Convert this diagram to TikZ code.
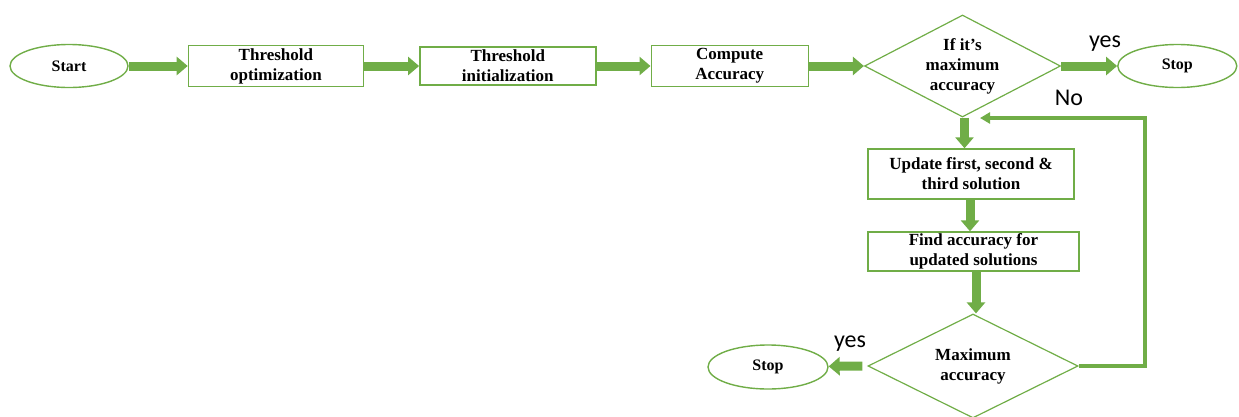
\documentclass[tikz,border=0pt]{standalone}
\usepackage{fontspec}
\setmainfont{Liberation Serif}
\newfontfamily\calibri{Carlito}
\usetikzlibrary{shapes.geometric, arrows.meta, positioning}
\definecolor{flowgreen}{RGB}{112,173,71}
\begin{document}
\begin{tikzpicture}[x=1pt, y=-1pt, line width=1.4pt,
			box/.style={draw=flowgreen, inner sep=0pt, align=center, font=\fontsize{17}{20}\selectfont\bfseries},
			term/.style={draw=flowgreen, ellipse, inner sep=0pt, minimum width=119pt, minimum height=43pt, font=\fontsize{16}{19}\selectfont\bfseries},
			decide/.style={draw=flowgreen, diamond, aspect=2, inner sep=0pt, line width=1.2pt, align=center, font=\fontsize{17}{20}\selectfont\bfseries},
			flow/.style={draw=flowgreen, line width=9pt, -{Triangle[width=18pt, length=11pt]}},
			back/.style={draw=flowgreen, line width=4pt, -{Triangle[width=11pt, length=10pt]}},
			label/.style={font=\calibri\fontsize{24}{28}\selectfont}]
		\useasboundingbox (0, 0) rectangle (1239, 416);
		\node[term, minimum width=118pt] (start) at (69, 66) {Start};
		\node[box, right=59pt of start, minimum width=175pt, minimum height=41pt] (thresopt) {Threshold\\optimization};
		\node[box, right=55pt of thresopt, minimum width=176pt, minimum height=38pt] (thresinit) {Threshold\\initialization};
		\node[box, right=54pt of thresinit, minimum width=157pt, minimum height=41pt] (compute) {Compute\\Accuracy};
		\node[decide, right=55pt of compute, minimum width=196pt, minimum height=102pt] (check) {If it’s\\maximum\\accuracy};
		\node[term, right=56pt of check] (stopa) {Stop};
		\node[box, minimum width=206pt, minimum height=50pt] (update) at (971, 174) {Update first, second \&\\third solution};
		\node[box, minimum width=211pt, minimum height=39pt] (findacc) at (973.5, 251.5) {Find accuracy for\\updated solutions};
		\node[decide, minimum width=210pt, minimum height=104pt] (maxacc) at (973, 366) {Maximum\\accuracy};
		\node[term, minimum width=120pt, minimum height=44pt] (stopb) at (768, 367) {Stop};
		\coordinate (noturn) at (1145, 118);
		\coordinate (noend) at (980, 118);

		\draw[flow] (start) -- (thresopt);
		\draw[flow] (thresopt) -- (thresinit);
		\draw[flow] (thresinit) -- (compute);
		\draw[flow] (compute) -- (check);
		\draw[flow] (check) -- (stopa);
		\draw[flow] ([xshift=2pt]check.south) -- ([xshift=2pt]check.south |- update.north);
		\draw[flow] ([xshift=-1pt]update.south) -- ([xshift=-1pt]update.south |- findacc.north);
		\draw[flow] ([xshift=2.5pt]findacc.south) -- ([xshift=2.5pt]findacc.south |- maxacc.north);
		\draw[flow] ([xshift=-5pt]maxacc.west) -- (stopb);
		\draw[back] (maxacc.east) -| (noturn) -- (noend);
		\node[label] (yesa) at (1105, 44) {yes};
		\node[label] (no) at (1069, 98) {No};
		\node[label] (yesb) at (850, 344) {yes};
	\end{tikzpicture}
\end{document}
